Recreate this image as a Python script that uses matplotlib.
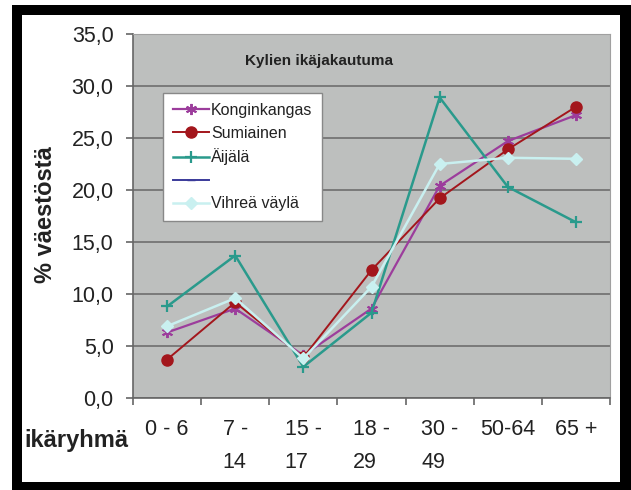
import matplotlib
matplotlib.use("Agg")
import matplotlib.pyplot as plt
from matplotlib.patches import Rectangle
from matplotlib.lines import Line2D
from matplotlib.ticker import FixedLocator, FuncFormatter

plt.rcParams['font.family'] = ['Liberation Sans', 'DejaVu Sans']

# age groups and shares (% of population) per village
categories = ["0 - 6", "7 -\n14", "15 -\n17", "18 -\n29", "30 -\n49", "50-64", "65 +"]
konginkangas = [6.3, 8.6, 4.1, 8.6, 20.4, 24.7, 27.2]
sumiainen = [3.7, 9.2, 3.9, 12.3, 19.2, 23.9, 28.0]
aijala = [8.8, 13.7, 3.0, 8.2, 28.9, 20.3, 16.9]
vihrea_vayla = [6.9, 9.6, 3.8, 10.7, 22.5, 23.1, 23.0]

W, H = 631, 490
fig = plt.figure(figsize=(W / 100, H / 100), dpi=100)
fig.patch.set_facecolor("white")

# black picture frame
fig.add_artist(Rectangle((12 / W, 0), 1 - 12 / W, 1 - 5 / H, transform=fig.transFigure,
                         facecolor="black", edgecolor="none", zorder=-10))
fig.add_artist(Rectangle((22 / W, 1 - 482 / H), (620 - 22) / W, (482 - 15) / H,
                         transform=fig.transFigure, facecolor="white", edgecolor="none", zorder=-9))

ax = fig.add_axes([133 / W, 1 - 398 / H, (610 - 133) / W, (398 - 34) / H])
ax.set_facecolor("#bdbfbe")

x = list(range(len(categories)))
l1, = ax.plot(x, konginkangas, color="#9c3d9c", lw=1.6, marker=(6, 2, 0), ms=8, mew=1.4)
l2, = ax.plot(x, sumiainen, color="#a3161c", lw=1.4, marker="o", ms=8)
l3, = ax.plot(x, aijala, color="#2a9a8c", lw=1.8, marker="+", ms=9, mew=1.6)
l4 = Line2D([], [], color="#3a3a9a", lw=1.4, marker="_", ms=6)
l5, = ax.plot(x, vihrea_vayla, color="#c9f0f0", lw=1.8, marker="D", ms=6)

ax.set_xlim(-0.5, len(categories) - 0.5)
ax.set_ylim(0, 35)
ax.yaxis.set_major_locator(FixedLocator([0, 5, 10, 15, 20, 25, 30, 35]))
ax.yaxis.set_major_formatter(FuncFormatter(lambda v, p: ("%.1f" % v).replace(".", ",")))
ax.grid(axis="y", color="#7a7a7a", lw=1.4)
ax.set_axisbelow(True)

ax.set_xticks(x)
ax.set_xticklabels(categories, linespacing=1.75, ma="left")
ax.set_xticks([i + 0.5 for i in range(-1, len(categories))], minor=True)
ax.tick_params(axis="x", which="major", length=0, pad=15, labelsize=15.5, colors="#222222")
ax.tick_params(axis="x", which="minor", length=5, width=1.2, direction="out", color="#666666")
ax.tick_params(axis="y", length=5, width=1.2, direction="out", color="#666666", labelsize=15.5,
               labelcolor="#222222", pad=9)

for side in ["left", "bottom"]:
    ax.spines[side].set_color("#666666")
    ax.spines[side].set_linewidth(1.2)
for side in ["top", "right"]:
    ax.spines[side].set_color("#a0a0a0")

ax.text(0.39, 0.925, "Kylien ikäjakautuma", transform=ax.transAxes, ha="center", va="center",
        fontsize=11, fontweight="bold", color="#222222")

leg = ax.legend([l1, l2, l3, l4, l5], ["Konginkangas", "Sumiainen", "Äijälä", "", "Vihreä väylä"],
                loc="upper left", bbox_to_anchor=(0.063, 0.838), fontsize=11.5, frameon=True,
                fancybox=False, framealpha=1, edgecolor="#888888", handlelength=2.3,
                handletextpad=0.1, labelspacing=0.5, borderpad=0.6, borderaxespad=0)
leg.get_frame().set_linewidth(1.0)
for t in leg.get_texts():
    t.set_color("#222222")

fig.text(45 / W, 1 - 215 / H, "% väestöstä", rotation=90, ha="center", va="center",
         fontsize=17, fontweight="bold", color="#222222")
fig.text(76 / W, 1 - 440 / H, "ikäryhmä", ha="center", va="center",
         fontsize=17, fontweight="bold", color="#222222")

fig.savefig("out.png", dpi=100)
